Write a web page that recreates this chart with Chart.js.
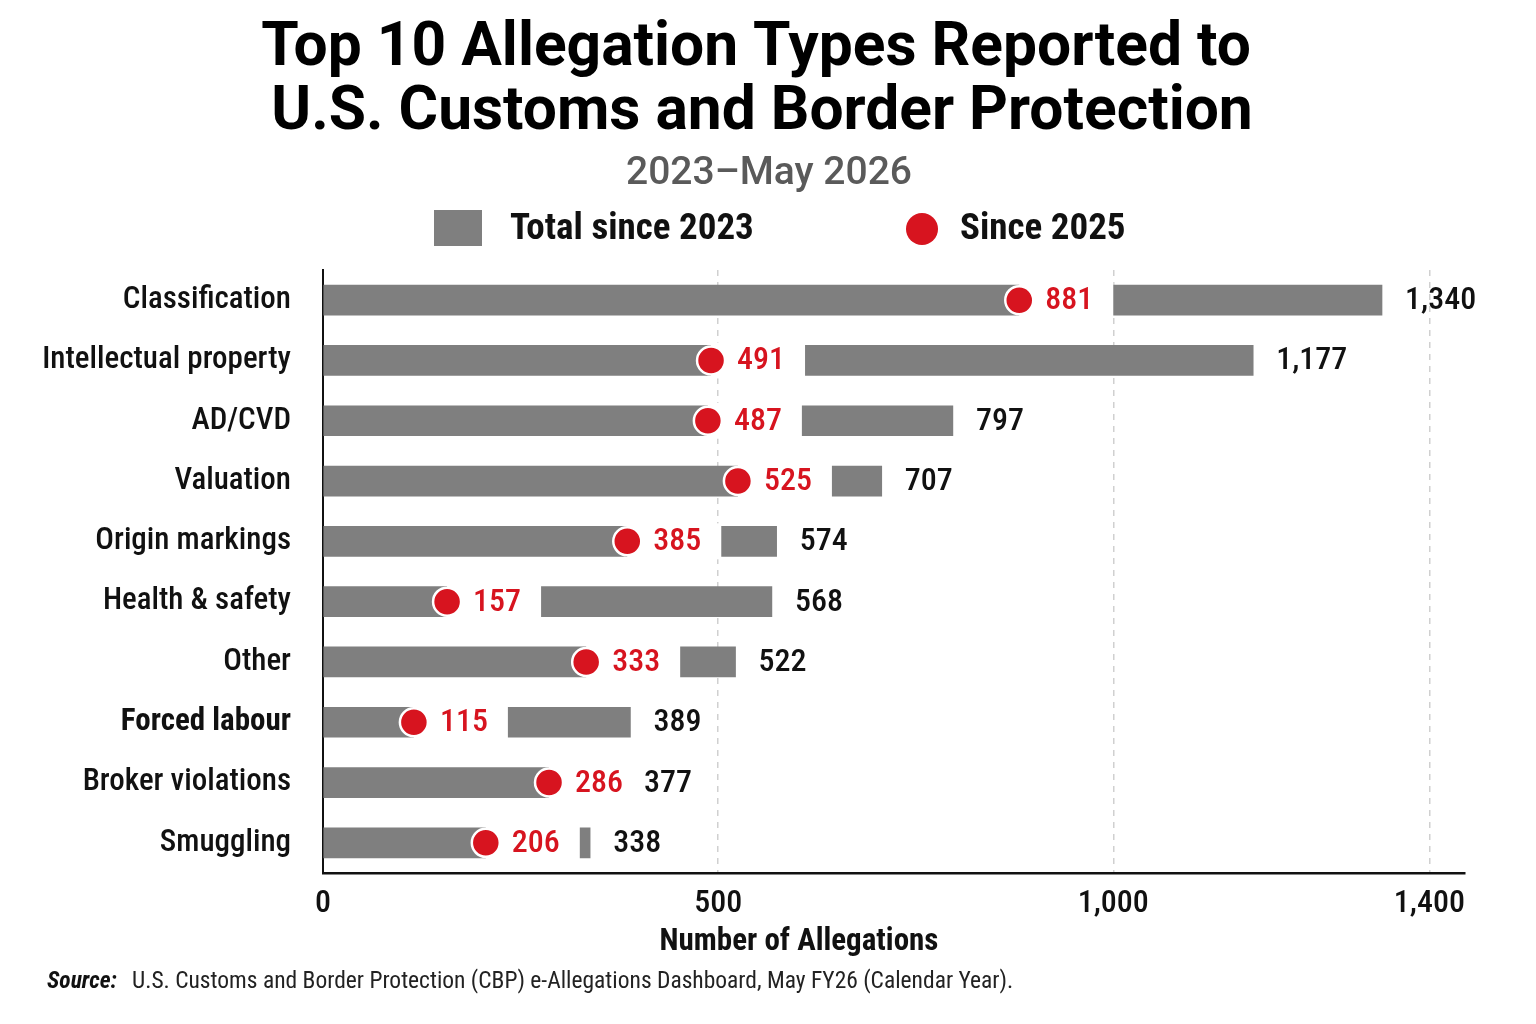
<!DOCTYPE html>
<html>
<head>
<meta charset="utf-8">
<title>Top 10 Allegation Types Reported to U.S. Customs and Border Protection</title>
<script src="https://cdn.jsdelivr.net/npm/chart.js@4.4.1/dist/chart.umd.min.js"></script>
<style>
  html, body { margin: 0; padding: 0; background: #fff; }
  #wrap { width: 1536px; height: 1024px; }
</style>
</head>
<body>
<div id="wrap"><canvas id="chart" width="1536" height="1024"></canvas></div>
<script>
// --- data ---
const categories = ['Classification', 'Intellectual property', 'AD/CVD', 'Valuation', 'Origin markings',
    'Health & safety', 'Other', 'Forced labour', 'Broker violations', 'Smuggling'];
const totalSince2023 = [1340, 1177, 797, 707, 574, 568, 522, 389, 377, 338];
const since2025 = [881, 491, 487, 525, 385, 157, 333, 115, 286, 206];
const xTicks = [0, 500, 1000, 1400];

const GRAY = '#7f7f7f';
const RED = '#d7141f';
const INK = '#111';
const NARROW = '"Roboto Condensed", "Liberation Sans Narrow", Roboto, sans-serif';
const fmt = v => Number(v).toLocaleString('en-US');

// labels next to the dots (with a white gap in the bar) and at the bar ends
const valueLabels = {
    id: 'valueLabels',
    afterDatasetDraw(chart, args) {
        if (args.index !== 0) return;
        const { ctx, scales: { x, y } } = chart;
        ctx.save();
        ctx.font = '500 32px ' + NARROW;
        ctx.textBaseline = 'middle';
        ctx.textAlign = 'left';
        since2025.forEach((v, i) => {
            const px = x.getPixelForValue(v);
            const py = y.getPixelForValue(i);
            const lx = px + 26;
            const w = ctx.measureText(fmt(v)).width;
            ctx.fillStyle = '#fff';
            ctx.fillRect(px, py - 18, lx + w + 20 - px, 36);
            ctx.fillStyle = RED;
            ctx.fillText(fmt(v), lx, py + 1);
        });
        ctx.restore();
    },
    afterDatasetsDraw(chart) {
        const { ctx, scales: { x, y } } = chart;
        ctx.save();
        ctx.font = '500 32px ' + NARROW;
        ctx.textBaseline = 'middle';
        ctx.textAlign = 'left';
        ctx.fillStyle = INK;
        totalSince2023.forEach((v, i) => {
            ctx.fillText(fmt(v), x.getPixelForValue(v) + 23, y.getPixelForValue(i) + 1);
        });
        ctx.restore();
    }
};

// title, subtitle, legend, axis title, source
const decorations = {
    id: 'decorations',
    beforeDraw(chart) {
        const ctx = chart.ctx;
        ctx.save();
        ctx.fillStyle = '#fff';
        ctx.fillRect(0, 0, chart.width, chart.height);
        ctx.restore();
    },
    afterDraw(chart) {
        const ctx = chart.ctx;
        ctx.save();
        ctx.textAlign = 'center';
        ctx.textBaseline = 'alphabetic';
        ctx.fillStyle = '#000';
        ctx.font = 'bold 60.5px Roboto, sans-serif';
        ctx.fillText('Top 10 Allegation Types Reported to', 756, 65, 990);
        ctx.fillText('U.S. Customs and Border Protection', 762, 129, 982);

        ctx.fillStyle = '#5a5a5a';
        ctx.font = '500 39px Roboto, sans-serif';
        ctx.fillText('2023\u2013May 2026', 769, 184, 297);

        // legend
        ctx.textAlign = 'left';
        ctx.textBaseline = 'middle';
        ctx.fillStyle = GRAY;
        ctx.fillRect(434, 210, 48, 36);
        ctx.fillStyle = RED;
        ctx.beginPath();
        ctx.arc(922, 229, 16, 0, Math.PI * 2);
        ctx.fill();
        ctx.fillStyle = INK;
        ctx.font = 'bold 37px ' + NARROW;
        ctx.fillText('Total since 2023', 510, 230);
        ctx.fillText('Since 2025', 960, 230);

        // x axis title
        ctx.textAlign = 'center';
        ctx.font = 'bold 31px ' + NARROW;
        ctx.fillText('Number of Allegations', 799, 942);

        // source
        ctx.textAlign = 'left';
        ctx.font = 'italic bold 23.5px ' + NARROW;
        ctx.fillText('Source:', 47, 982);
        ctx.font = '23.5px ' + NARROW;
        ctx.fillStyle = '#222';
        ctx.fillText('U.S. Customs and Border Protection (CBP) e-Allegations Dashboard, May FY26 (Calendar Year).', 132, 982);
        ctx.restore();
    }
};

new Chart(document.getElementById('chart'), {
    data: {
        labels: categories,
        datasets: [
            {
                type: 'bar',
                label: 'Total since 2023',
                data: totalSince2023,
                indexAxis: 'y',
                backgroundColor: GRAY,
                barThickness: 30,
                order: 2
            },
            {
                type: 'line',
                label: 'Since 2025',
                data: since2025,
                indexAxis: 'y',
                showLine: false,
                pointRadius: 14,
                pointHoverRadius: 14,
                pointBackgroundColor: RED,
                pointBorderColor: '#fff',
                pointBorderWidth: 2.5,
                pointHoverBorderWidth: 2.5,
                order: 1
            }
        ]
    },
    options: {
        indexAxis: 'y',
        responsive: false,
        animation: false,
        layout: { padding: { top: 270, right: 71, bottom: 61, left: 0 } },
        plugins: {
            legend: { display: false },
            title: { display: false },
            tooltip: { enabled: false }
        },
        scales: {
            y: {
                type: 'category',
                grid: { display: false },
                border: { color: INK, width: 2 },
                ticks: {
                    color: INK,
                    padding: 24,
                    font: ctx => ({
                        family: NARROW,
                        size: 31,
                        weight: categories[ctx.index] === 'Forced labour' ? 'bold' : '500'
                    })
                },
                afterFit: s => { s.width = 323; }
            },
            x: {
                type: 'linear',
                min: 0,
                max: 1445,
                afterBuildTicks: s => { s.ticks = xTicks.map(v => ({ value: v })); },
                grid: {
                    color: ctx => (ctx.tick && ctx.tick.value === 0) ? 'rgba(0,0,0,0)' : '#d0d0d0',
                    lineWidth: 1.5,
                    drawTicks: false
                },
                border: { color: INK, width: 2.5, dash: [6, 6] },
                ticks: {
                    color: INK,
                    padding: 12,
                    autoSkip: false,
                    maxRotation: 0,
                    font: { family: NARROW, size: 32, weight: '500' },
                    callback: v => fmt(v)
                },
                title: { display: false },
                afterFit: s => { s.height = 90; }
            }
        }
    },
    plugins: [valueLabels, decorations]
});
</script>
</body>
</html>
